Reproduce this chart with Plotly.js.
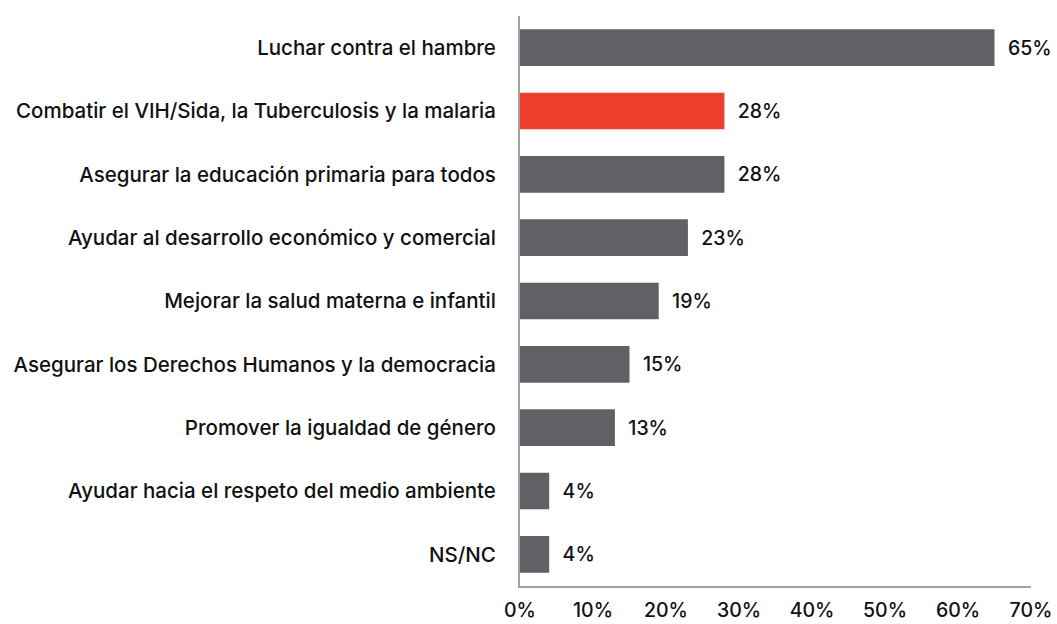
<!DOCTYPE html>
<html>
<head>
<meta charset="utf-8">
<script src="https://cdn.plot.ly/plotly-3.0.1.min.js"></script>
<style>html,body{margin:0;padding:0;background:#fff;}#chart{width:1057px;height:624px;}</style>
</head>
<body>
<div id="chart"></div>
<script>
const categories = [
  "Luchar contra el hambre",
  "Combatir el VIH/Sida, la Tuberculosis y la malaria",
  "Asegurar la educación primaria para todos",
  "Ayudar al desarrollo económico y comercial",
  "Mejorar la salud materna e infantil",
  "Asegurar los Derechos Humanos y la democracia",
  "Promover la igualdad de género",
  "Ayudar hacia el respeto del medio ambiente",
  "NS/NC"
];
const values = [65, 28, 28, 23, 19, 15, 13, 4, 4];
const highlight = "Combatir el VIH/Sida, la Tuberculosis y la malaria";
const tickValues = [0, 10, 20, 30, 40, 50, 60, 70];
const tickLabels = ["0%", "10%", "20%", "30%", "40%", "50%", "60%", "70%"];

const colors = categories.map(c => c === highlight ? "#ee3e2c" : "#606166");
const pad = "\u00a0\u00a0";
const FONT = "Inter, Liberation Sans, Arial, sans-serif";
const W = 500;
const S = 20.5;
const SV = 19.5;

const trace = {
  type: "bar",
  orientation: "h",
  x: values,
  y: categories,
  marker: {color: colors, line: {width: 0}},
  width: 0.58,
  text: values.map(v => pad + v + "%"),
  textposition: "outside",
  cliponaxis: false,
  textfont: {family: FONT, size: SV, color: "#111", weight: W},
  hoverinfo: "skip"
};

const layout = {
  width: 1057,
  height: 624,
  margin: {l: 520, r: 26, t: 16, b: 38},
  paper_bgcolor: "#fff",
  plot_bgcolor: "#fff",
  showlegend: false,
  font: {family: FONT, size: S, color: "#111", weight: W},
  xaxis: {
    range: [0, 70],
    tickvals: tickValues,
    ticktext: tickLabels,
    showgrid: false,
    zeroline: false,
    showline: true,
    linecolor: "#a0a2a6",
    linewidth: 2,
    ticks: "",
    ticklabelstandoff: 6,
    tickfont: {family: FONT, size: SV, color: "#111", weight: W},
    fixedrange: true
  },
  yaxis: {
    autorange: "reversed",
    showgrid: false,
    zeroline: false,
    showline: true,
    linecolor: "#a0a2a6",
    linewidth: 2,
    ticks: "",
    ticklabelstandoff: 18,
    tickfont: {family: FONT, size: S, color: "#111", weight: W},
    fixedrange: true
  },
  bargap: 0.42
};

Plotly.newPlot("chart", [trace], layout, {displayModeBar: false, staticPlot: true});
</script>
</body>
</html>
